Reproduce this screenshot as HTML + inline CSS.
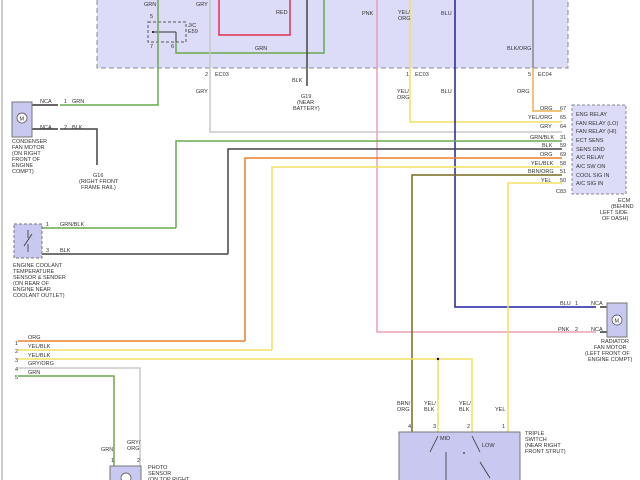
<!DOCTYPE html>
<html><head><meta charset="utf-8"><style>
html,body{margin:0;padding:0;background:#fff;width:640px;height:480px;overflow:hidden}
text{font-family:"Liberation Sans",sans-serif;font-size:5.5px;fill:#333}
</style></head><body>
<svg width="640" height="480" viewBox="0 0 640 480" xmlns="http://www.w3.org/2000/svg">
<line x1="2" y1="0" x2="2" y2="480" stroke="#999" stroke-width="1"/>
<!-- top box -->
<path d="M97,0 V68 H568 V0" fill="#dcdcf8" stroke="#888" stroke-dasharray="5,3"/>
<!-- JC -->
<rect x="148" y="22" width="38" height="20" fill="none" stroke="#555" stroke-dasharray="3,2"/>
<text x="188" y="27">J/C</text><text x="188" y="33">E59</text>
<line x1="154" y1="32" x2="176" y2="32" stroke="#333"/><line x1="176" y1="32" x2="176" y2="42" stroke="#333"/>
<circle cx="153" cy="32" r="1" fill="#000"/>
<!-- wires -->
<g fill="none" stroke-width="1.5">
<path d="M158,0 V105 H60" stroke="#6aa84f"/>
<path d="M176,42 V53 H324 V0" stroke="#6aa84f"/>
<path d="M219,0 V35 H290 V0" stroke="#e03050"/>
<path d="M210,0 V132 H562" stroke="#c8c8c8"/>
<path d="M307,0 V86" stroke="#444"/>
<path d="M377,0 V332 H596" stroke="#e8a0b0"/>
<path d="M410,0 V122 H562" stroke="#f0e060"/>
<path d="M455,0 V307 H596" stroke="#2020a0"/>
<path d="M533,0 V68" stroke="#888"/>
<path d="M533,68 V111 H562" stroke="#e8b050"/>
<path d="M176,228 V141 H562" stroke="#6aa84f"/>
<path d="M228,254 V149 H562" stroke="#444"/>
<path d="M245,341 V158 H562" stroke="#e88030"/>
<path d="M272,350 V167 H562" stroke="#f0e060"/>
<path d="M412,432 V175 H562" stroke="#7a6a20"/>
<path d="M508,432 V183 H562" stroke="#f0e060"/>
<path d="M60,129 H97 V165" stroke="#444"/>
<path d="M42,228 H176" stroke="#6aa84f"/>
<path d="M42,254 H228" stroke="#444"/>
<path d="M18,341 H245" stroke="#e88030"/>
<path d="M18,350 H272" stroke="#f0e060"/>
<path d="M18,359 H472 V432" stroke="#f0e060"/>
<path d="M438,359 V432" stroke="#f0e060"/>
<path d="M18,368 H140 V466" stroke="#c8c8c8"/>
<path d="M18,376 H114 V466" stroke="#6aa84f"/>
<path d="M32,105 H58 M32,129 H58" stroke="#333"/>
<path d="M600,307 H607 M600,332 H607" stroke="#333"/>
</g>
<circle cx="438" cy="359" r="1.2" fill="#000"/>
<!-- labels top -->
<text x="144" y="6">GRN</text><text x="150" y="18">5</text><text x="150" y="48">7</text><text x="171" y="48">6</text>
<text x="196" y="6">GRY</text><text x="276" y="14">RED</text><text x="255" y="50">GRN</text>
<text x="362" y="15">PNK</text><text x="398" y="14">YEL/</text><text x="398" y="20">ORG</text><text x="441" y="15">BLU</text>
<text x="507" y="50">BLK/ORG</text>
<text x="205" y="76">2</text><text x="215" y="76">EC03</text><text x="196" y="93">GRY</text>
<text x="292" y="82">BLK</text><text x="301" y="98">G19</text><text x="297" y="104">(NEAR</text><text x="293" y="110">BATTERY)</text>
<text x="406" y="76">1</text><text x="415" y="76">EC03</text><text x="397" y="93">YEL/</text><text x="397" y="99">ORG</text><text x="441" y="93">BLU</text>
<text x="528" y="76">5</text><text x="538" y="76">EC04</text><text x="517" y="93">ORG</text>
<!-- ECM -->
<rect x="572" y="105" width="54" height="89" fill="#dcdcf8" stroke="#888" stroke-dasharray="3,2"/>
<g>
<text x="576" y="116">ENG RELAY</text><text x="576" y="125">FAN RELAY (LO)</text><text x="576" y="133">FAN RELAY (HI)</text>
<text x="576" y="142">ECT SENS</text><text x="576" y="151">SENS GND</text><text x="576" y="159">A/C RELAY</text>
<text x="576" y="168">A/C SW ON</text><text x="576" y="177">COOL SIG IN</text><text x="576" y="185">A/C SIG IN</text>
<text x="540" y="110">ORG</text><text x="560" y="110">67</text>
<text x="528" y="119">YEL/ORG</text><text x="560" y="119">65</text>
<text x="540" y="128">GRY</text><text x="560" y="128">64</text>
<text x="530" y="139">GRN/BLK</text><text x="560" y="139">31</text>
<text x="542" y="147">BLK</text><text x="560" y="147">59</text>
<text x="540" y="156">ORG</text><text x="560" y="156">69</text>
<text x="531" y="165">YEL/BLK</text><text x="560" y="165">58</text>
<text x="528" y="173">BRN/ORG</text><text x="560" y="173">51</text>
<text x="541" y="182">YEL</text><text x="560" y="182">50</text>
<text x="556" y="193">C83</text>
<text x="618" y="202">ECM</text><text x="611" y="208">(BEHIND</text><text x="600" y="214">LEFT SIDE</text><text x="602" y="220">OF DASH)</text>
</g>
<!-- condenser -->
<rect x="12" y="102" width="20" height="35" fill="#c8c8f0" stroke="#777"/>
<circle cx="22" cy="118" r="5" fill="#fff" stroke="#444" stroke-width=".7"/><text x="19.5" y="120.5">M</text>
<text x="40" y="103">NCA</text><text x="64" y="103">1</text><text x="72" y="103">GRN</text>
<text x="40" y="129">NCA</text><text x="64" y="129">2</text><text x="72" y="129">BLK</text>
<text x="12" y="143">CONDENSER</text><text x="12" y="149">FAN MOTOR</text><text x="12" y="155">(ON RIGHT</text><text x="12" y="161">FRONT OF</text><text x="12" y="167">ENGINE</text><text x="12" y="173">COMPT)</text>
<text x="93" y="177">G16</text><text x="79" y="183">(RIGHT FRONT</text><text x="81" y="189">FRAME RAIL)</text>
<!-- coolant -->
<rect x="14" y="224" width="28" height="34" fill="#c8c8f0" stroke="#777" stroke-dasharray="3,2"/>
<path d="M28,230 V238 M24,246 L32,234 M28,244 V252" stroke="#333" stroke-width=".8"/>
<text x="46" y="226">1</text><text x="60" y="226">GRN/BLK</text><text x="46" y="252">3</text><text x="60" y="252">BLK</text>
<text x="13" y="267">ENGINE COOLANT</text><text x="13" y="273">TEMPERATURE</text><text x="13" y="279">SENSOR &amp; SENDER</text><text x="13" y="285">(ON REAR OF</text><text x="13" y="291">ENGINE NEAR</text><text x="13" y="297">COOLANT OUTLET)</text>
<!-- bottom left -->
<text x="15" y="345">1</text><text x="28" y="339">ORG</text>
<text x="15" y="353">2</text><text x="28" y="348">YEL/BLK</text>
<text x="15" y="362">3</text><text x="28" y="357">YEL/BLK</text>
<text x="15" y="371">4</text><text x="28" y="365">GRY/ORG</text>
<text x="15" y="379">5</text><text x="28" y="374">GRN</text>
<text x="101" y="451">GRN</text><text x="127" y="444">GRY/</text><text x="127" y="450">ORG</text>
<text x="111" y="462">1</text><text x="137" y="462">2</text>
<rect x="110" y="466" width="31" height="20" fill="#c8c8f0" stroke="#777"/>
<circle cx="126" cy="478" r="5" fill="#fff" stroke="#444" stroke-width=".7"/>
<text x="148" y="469">PHOTO</text><text x="148" y="475">SENSOR</text><text x="148" y="481">(ON TOP RIGHT</text>
<!-- radiator -->
<rect x="607" y="303" width="20" height="34" fill="#c8c8f0" stroke="#777"/>
<circle cx="617" cy="320" r="5" fill="#fff" stroke="#444" stroke-width=".7"/><text x="614.5" y="322.5">M</text>
<text x="560" y="305">BLU</text><text x="575" y="305">1</text><text x="591" y="305">NCA</text>
<text x="558" y="331">PNK</text><text x="575" y="331">2</text><text x="591" y="331">NCA</text>
<text x="601" y="343">RADIATOR</text><text x="594" y="349">FAN MOTOR</text><text x="585" y="355">(LEFT FRONT OF</text><text x="588" y="361">ENGINE COMPT)</text>
<!-- triple switch -->
<rect x="399" y="432" width="121" height="50" fill="#c8c8f0" stroke="#777"/>
<text x="397" y="405">BRN/</text><text x="397" y="411">ORG</text>
<text x="424" y="405">YEL/</text><text x="424" y="411">BLK</text>
<text x="459" y="405">YEL/</text><text x="459" y="411">BLK</text>
<text x="495" y="411">YEL</text>
<text x="408" y="428">4</text><text x="433" y="428">3</text><text x="467" y="428">2</text><text x="502" y="428">1</text>
<text x="440" y="440">MID</text><text x="482" y="447">LOW</text>
<path d="M438,436 L430,452 M446,452 V480 M472,436 L480,452 M480,462 L490,478" stroke="#333" stroke-width=".8" fill="none"/>
<circle cx="464" cy="453" r=".8" fill="#000"/>
<text x="525" y="435">TRIPLE</text><text x="525" y="441">SWITCH</text><text x="525" y="447">(NEAR RIGHT</text><text x="525" y="453">FRONT STRUT)</text>
</svg>
</body></html>
